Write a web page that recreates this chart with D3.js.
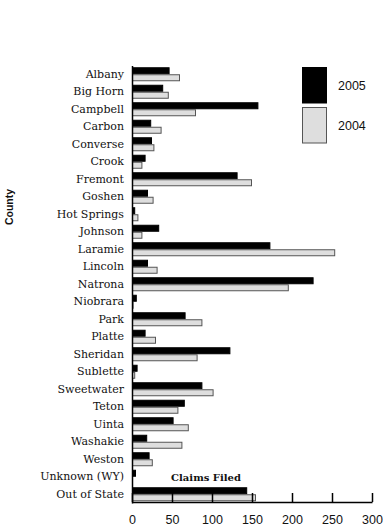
<!DOCTYPE html>
<html>
<head>
<meta charset="utf-8">
<script src="https://cdn.jsdelivr.net/npm/d3@7"></script>
<style>
html,body{margin:0;padding:0;background:#fff;}
svg{display:block;}
</style>
</head>
<body>
<svg id="chart" width="383" height="528"></svg>
<script>
const categories = ["Albany","Big Horn","Campbell","Carbon","Converse","Crook","Fremont","Goshen","Hot Springs","Johnson","Laramie","Lincoln","Natrona","Niobrara","Park","Platte","Sheridan","Sublette","Sweetwater","Teton","Uinta","Washakie","Weston","Unknown (WY)","Out of State"];
const values2005 = [47,39,158,24,25,17,132,20,4,34,173,20,227,6,67,17,123,7,88,66,52,19,22,5,144];
const values2004 = [60,46,80,37,28,13,150,27,8,13,254,32,196,2,88,30,82,4,102,58,71,63,26,0,155];
const seriesNames = ["2005","2004"];
const xTicks = [0,50,100,150,200,250,300];

const svg = d3.select("#chart");
const x = d3.scaleLinear().domain([0,300]).range([132,372]);
const y = d3.scaleBand().domain(categories).range([65.5,503]).padding(0);
const inner = d3.scaleBand().domain(seriesNames).range([1.75,15.75]).padding(0);
const fills = {"2005":"#000000","2004":"#dedede"};
const strokes = {"2005":"#000000","2004":"#555555"};

const rows = categories.map((c,i)=>({c, v:{"2005":values2005[i],"2004":values2004[i]}}));

const g = svg.append("g");
rows.forEach(r=>{
  seriesNames.forEach(s=>{
    const v = r.v[s];
    if(v<=0) return;
    g.append("rect")
      .attr("x", x(0)+0.5)
      .attr("y", y(r.c)+inner(s)+0.5)
      .attr("width", Math.max(0, x(v)-x(0)-1))
      .attr("height", inner.bandwidth()-1)
      .attr("fill", fills[s])
      .attr("stroke", strokes[s])
      .attr("stroke-width", 1);
  });
});

// Y axis
const yAxis = svg.append("g").attr("transform","translate(132,0)")
  .call(d3.axisLeft(y).tickSize(0).tickPadding(8).tickSizeOuter(0));
yAxis.select(".domain").attr("stroke","#000").attr("stroke-width",1.5);
yAxis.selectAll("text").attr("font-family","'DejaVu Serif', serif").attr("font-size","11px").attr("fill","#111");

// X axis
const xAxis = svg.append("g").attr("transform","translate(0,502)")
  .call(d3.axisBottom(x).tickValues(xTicks).tickSizeInner(-9).tickSizeOuter(0).tickPadding(13));
xAxis.select(".domain").attr("stroke","#000").attr("stroke-width",1.5);
xAxis.selectAll(".tick line").attr("stroke","#000").attr("stroke-width",1.5);
xAxis.selectAll("text").attr("font-family","'Liberation Sans', Arial, sans-serif").attr("font-size","12.5px").attr("fill","#111");

// Axis titles
svg.append("text").attr("x",206).attr("y",477).attr("dy","0.35em")
  .attr("text-anchor","middle").attr("font-family","'DejaVu Serif', serif")
  .attr("font-weight","bold").attr("font-size","10px").attr("fill","#111").text("Claims Filed");
svg.append("text").attr("transform","translate(9,207) rotate(-90)").attr("dy","0.35em")
  .attr("text-anchor","middle").attr("font-family","'Liberation Sans', Arial, sans-serif")
  .attr("font-weight","bold").attr("font-size","10.5px").attr("fill","#111").text("County");

// Legend
const legend = svg.append("g");
const legItems = [{s:"2005", y0:67.5},{s:"2004", y0:107.5}];
legItems.forEach(d=>{
  legend.append("rect").attr("x",302.5).attr("y",d.y0).attr("width",24).attr("height",35.5)
    .attr("fill",fills[d.s]).attr("stroke",strokes[d.s]).attr("stroke-width",1);
  legend.append("text").attr("x",338).attr("y",d.y0+18).attr("dy","0.35em")
    .attr("font-family","'Liberation Sans', Arial, sans-serif").attr("font-size","12.5px")
    .attr("fill","#111").text(d.s);
});
</script>
</body>
</html>
